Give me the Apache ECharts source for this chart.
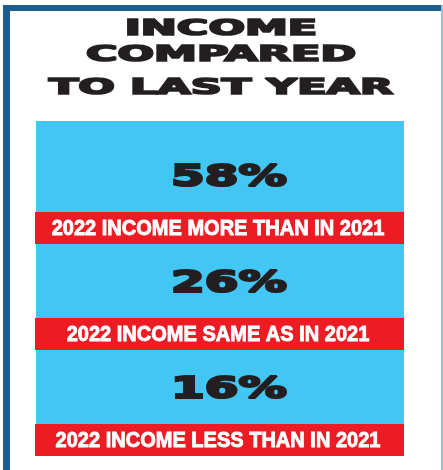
<!DOCTYPE html>
<html>
<head>
<meta charset="utf-8">
<script src="https://cdn.jsdelivr.net/npm/echarts@6/dist/echarts.min.js"></script>
<style>
  html, body { margin: 0; padding: 0; background: #ffffff; }
  #chart { width: 443px; height: 470px; }
</style>
</head>
<body>
<div id="chart"></div>
<script>
// ---- data ----
const titleLines = ['INCOME', 'COMPARED', 'TO LAST YEAR'];
const categories = [
  '2022 INCOME MORE THAN IN 2021',
  '2022 INCOME SAME AS IN 2021',
  '2022 INCOME LESS THAN IN 2021'
];
const percentages = [58, 26, 16];

// ---- styles ----
const PANEL_BLUE = '#42c6f4';
const RED = '#ed1c24';
const BORDER_BLUE = '#1b5e8f';
const INK = '#231f20';

const chart = echarts.init(document.getElementById('chart'), null, { renderer: 'canvas' });

const titleY = [29.5, 55.5, 89];
const titleGraphics = titleLines.map((t, i) => ({
  type: 'text',
  x: 221,
  y: titleY[i],
  scaleX: 2.05,
  style: {
    text: t,
    font: 'bold 21px "DejaVu Sans"',
    fill: INK,
    stroke: INK,
    lineWidth: 1.6,
    align: 'center',
    verticalAlign: 'middle'
  }
}));

const option = {
  animation: false,
  backgroundColor: '#ffffff',
  grid: { left: 36, right: 39, top: 140, height: 318 },
  xAxis: { type: 'value', min: 0, max: 100, show: false },
  yAxis: { type: 'category', data: categories, inverse: true, show: false },
  graphic: [
    // blue panel behind the rows
    { type: 'rect', z: -10, shape: { x: 36, y: 121, width: 368, height: 335 }, style: { fill: PANEL_BLUE } },
    // frame
    { type: 'rect', shape: { x: 3, y: 5, width: 7, height: 465 }, style: { fill: BORDER_BLUE } },
    { type: 'rect', shape: { x: 3, y: 5, width: 438, height: 6 }, style: { fill: BORDER_BLUE } },
    { type: 'rect', shape: { x: 441, y: 5, width: 2, height: 465 }, style: { fill: '#9fbdd3' } }
  ].concat(titleGraphics),
  series: [{
    type: 'custom',
    coordinateSystem: 'cartesian2d',
    data: categories.map((c, i) => [percentages[i], c]),
    encode: { x: 0, y: 1 },
    renderItem: function (params, api) {
      const cs = params.coordSys;
      const idx = params.dataIndex;
      const center = api.coord([0, idx])[1];
      const band = api.size([0, 1])[1];
      const bandEnd = center + band / 2;
      const redH = 32;
      const pct = api.value(0);
      return {
        type: 'group',
        children: [
          {
            type: 'rect',
            shape: { x: cs.x - 1, y: bandEnd - redH - 2, width: cs.width + 1, height: redH },
            style: { fill: RED }
          },
          {
            type: 'text',
            x: cs.x + cs.width / 2 - 2,
            y: bandEnd - redH / 2 - 1,
            scaleX: 0.91,
            style: {
              text: categories[idx],
              font: 'bold 22px "Liberation Sans"',
              fill: '#ffffff',
              stroke: '#ffffff',
              lineWidth: 0.9,
              align: 'center',
              verticalAlign: 'middle'
            }
          },
          {
            type: 'text',
            x: cs.x + cs.width / 2 + 9,
            y: center - 15,
            scaleX: 1.56,
            style: {
              text: pct + '%',
              font: 'bold 31px "DejaVu Sans"',
              fill: INK,
              stroke: INK,
              lineWidth: 2.2,
              align: 'center',
              verticalAlign: 'middle'
            }
          }
        ]
      };
    }
  }]
};

chart.setOption(option);
</script>
</body>
</html>
